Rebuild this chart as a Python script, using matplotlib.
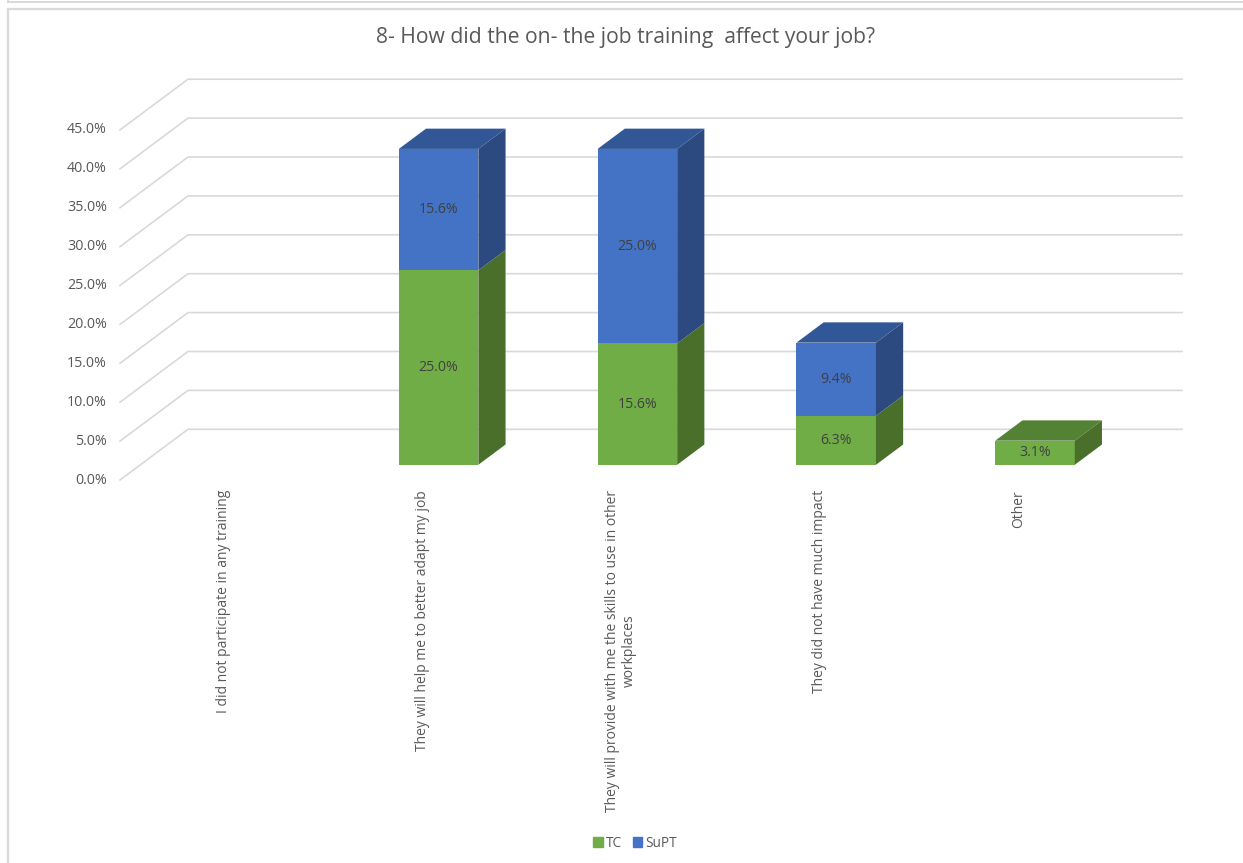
import matplotlib.pyplot as plt
from matplotlib.patches import Polygon, Rectangle
from matplotlib.lines import Line2D

plt.rcParams['font.family'] = ['Open Sans', 'DejaVu Sans']

categories = [
    "I did not participate in any training",
    "They will help me to better adapt my job",
    "They will provide with me the skills to use in other\nworkplaces",
    "They did not have much impact",
    "Other",
]
tc = [0.0, 25.0, 15.6, 6.3, 3.1]
supt = [0.0, 15.6, 25.0, 9.4, 0.0]
y_ticks = [0, 5, 10, 15, 20, 25, 30, 35, 40, 45]

green = "#70AD47"
green_side = "#4A6F2B"
green_top = "#548235"
blue = "#4472C4"
blue_side = "#2C4A7F"
blue_top = "#325796"
grid_color = "#D9D9D9"
text_gray = "#595959"

W, H = 1243, 863
fig = plt.figure(figsize=(W / 100, H / 100), dpi=100)
ax = fig.add_axes([0, 0, 1, 1])

# one category = 198.8 px, one percent = 7.78 px; floor front-left corner at (120, 480)
px_x, px_y = 198.8, 7.78
ax.set_xlim(-120 / px_x, (W - 120) / px_x)
ax.set_ylim((480 - H) / px_y, 480 / px_y)
ax.axis("off")

# oblique depth of the floor, and where the bars sit inside it
dx, dy = 68 / px_x, 50.7 / px_y
d0, d1 = 0.3, 0.7
n = len(categories)

# back wall gridlines with their floor diagonals
for v in y_ticks:
    ax.plot([0, dx, n + dx], [v, v + dy, v + dy], color=grid_color, lw=1.2, zorder=1)
    ax.text(-0.065, v, f"{v:.1f}%", ha="right", va="center", fontsize=10.3, color=text_gray)

# stacked 3D columns
bar_w = 0.4
xs = [i + 0.5 + d0 * dx for i in range(n)]
base = d0 * dy
ddx, ddy = (d1 - d0) * dx, (d1 - d0) * dy

series = [(tc, green, green_side), (supt, blue, blue_side)]
bottoms = [base] * n
for vals, front, side in series:
    ax.bar(xs, vals, width=bar_w, bottom=bottoms, color=front, zorder=3)
    for i, v in enumerate(vals):
        if v <= 0:
            continue
        xr = xs[i] + bar_w / 2
        y0, y1 = bottoms[i], bottoms[i] + v
        ax.add_patch(Polygon([(xr, y0), (xr + ddx, y0 + ddy), (xr + ddx, y1 + ddy), (xr, y1)],
                             closed=True, facecolor=side, edgecolor="none", zorder=3))
        ax.text(xs[i], (y0 + y1) / 2, f"{v:.1f}%", ha="center", va="center",
                fontsize=10.2, color="#404040", zorder=5)
    bottoms = [b + v for b, v in zip(bottoms, vals)]

# top faces, coloured by the uppermost non-empty segment
for i in range(n):
    if tc[i] + supt[i] <= 0:
        continue
    top = blue_top if supt[i] > 0 else green_top
    xl, xr = xs[i] - bar_w / 2, xs[i] + bar_w / 2
    y1 = bottoms[i]
    ax.add_patch(Polygon([(xl, y1), (xl + ddx, y1 + ddy), (xr + ddx, y1 + ddy), (xr, y1)],
                         closed=True, facecolor=top, edgecolor="none", zorder=4))

# category labels
for i, lab in enumerate(categories):
    ax.text(i + 0.5 + 0.02, -10 / px_y, lab, rotation=90, ha="center", va="top",
            multialignment="center", fontsize=10.0, color=text_gray, linespacing=1.1)

fig.text(626 / W, 1 - 38 / H, "8- How did the on- the job training  affect your job?",
         ha="center", va="center", fontsize=15.2, color=text_gray)

# legend
handles = [Rectangle((0, 0), 1, 1, color=green), Rectangle((0, 0), 1, 1, color=blue)]
fig.legend(handles, ["TC", "SuPT"], loc="center", bbox_to_anchor=(635 / W, 1 - 843 / H),
           ncol=2, frameon=False, handlelength=0.7, handleheight=0.7, handletextpad=0.2,
           columnspacing=0.8, fontsize=9.8, labelcolor=text_gray)

# chart frame
frame = "#D9D9D9"
fig.add_artist(Line2D([7.5 / W, 7.5 / W], [0, 1 - 9.5 / H], color=frame, lw=1.6, transform=fig.transFigure))
fig.add_artist(Line2D([7.5 / W, 1], [1 - 9.5 / H, 1 - 9.5 / H], color=frame, lw=1.6, transform=fig.transFigure))
fig.add_artist(Line2D([7.5 / W, 1], [1 - 2.5 / H, 1 - 2.5 / H], color=frame, lw=1.4, transform=fig.transFigure))
fig.add_artist(Line2D([7.5 / W, 7.5 / W], [1 - 2.5 / H, 1], color=frame, lw=1.4, transform=fig.transFigure))

fig.savefig("out.png", dpi=100)
